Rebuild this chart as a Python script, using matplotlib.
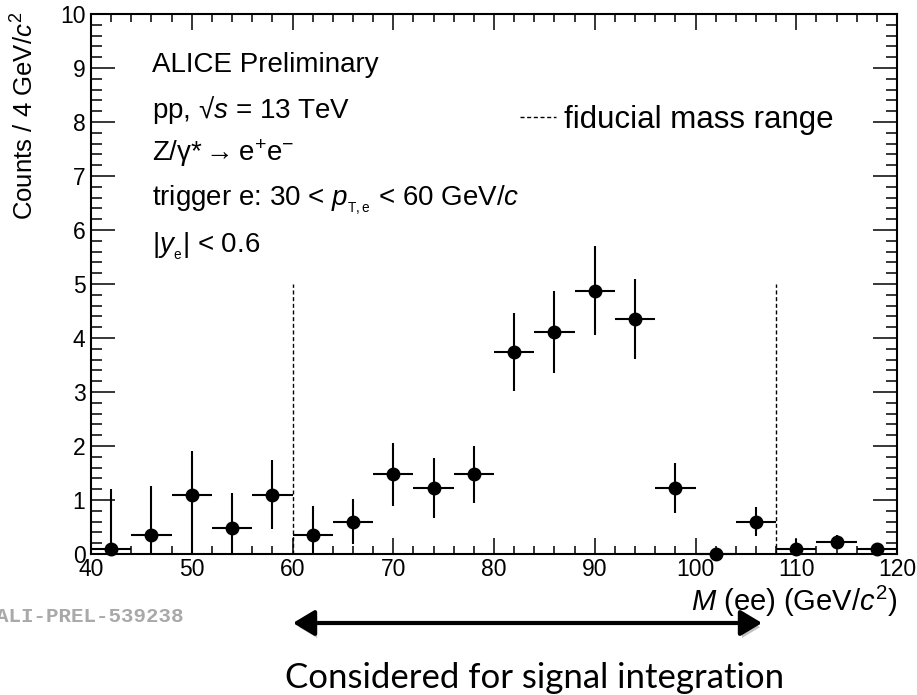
import matplotlib
matplotlib.use("Agg")
import matplotlib.pyplot as plt
from matplotlib.ticker import MultipleLocator
from matplotlib.patches import FancyArrowPatch, ArrowStyle
import matplotlib.patheffects as pe
import numpy as np

mass_centers = [42, 46, 50, 54, 58, 62, 66, 70, 74, 78, 82, 86, 90, 94, 98, 102, 106, 110, 114, 118]
counts = [0.1, 0.35, 1.1, 0.48, 1.1, 0.35, 0.6, 1.48, 1.22, 1.48, 3.74, 4.11, 4.87, 4.36, 1.22, 0.0, 0.6, 0.1, 0.22, 0.1]
err_low = [0.0, 0.0, 0.0, 0.0, 0.46, 0.0, 0.18, 0.89, 0.66, 0.94, 3.01, 3.35, 4.05, 3.62, 0.76, 0.0, 0.33, 0.0, 0.09, 0.02]
err_high = [1.2, 1.26, 1.9, 1.13, 1.75, 0.89, 1.01, 2.06, 1.78, 2.0, 4.47, 4.87, 5.7, 5.09, 1.69, 0.0, 0.87, 0.27, 0.35, 0.2]
bin_half = 2
fiducial_edges = [60, 108]
fiducial_top = 5

info_lines = ["ALICE Preliminary",
              "pp, \u221a$s$ = 13 TeV",
              "Z/\u03b3*$\\rightarrow$e$^{+}$e$^{-}$",
              "trigger e: 30 < $p_{_{\\mathrm{T,e}}}$ < 60 GeV/$c$",
              "|$y_{_{\\mathrm{e}}}$| < 0.6"]
info_baselines = [72, 118, 161, 205, 252]  # pixel rows

plt.rcParams['font.family'] = ['Liberation Sans', 'DejaVu Sans']
plt.rcParams['mathtext.fontset'] = 'custom'
plt.rcParams['mathtext.rm'] = 'Liberation Sans'
plt.rcParams['mathtext.it'] = 'Liberation Sans:italic'
plt.rcParams['mathtext.bf'] = 'Liberation Sans:bold'

W, H = 917, 695
fig = plt.figure(figsize=(W / 100, H / 100), dpi=100)
ax = fig.add_axes([91 / W, 1 - 554 / H, (897 - 91) / W, (554 - 14) / H])

x = np.array(mass_centers)
y = np.array(counts)
yerr = [y - np.array(err_low), np.array(err_high) - y]
cont = ax.errorbar(x, y, xerr=bin_half, yerr=yerr, fmt='o', color='black', ms=9,
                   elinewidth=1.5, capsize=0, zorder=3)
for art in [cont[0]] + list(cont[2]):
    art.set_clip_on(False)

dash = (0, (2.9, 1.9))
for i, edge in enumerate(fiducial_edges):
    ax.plot([edge, edge], [0, fiducial_top], color='black', lw=1, ls=dash,
            label='fiducial mass range' if i == 0 else None)

ax.set_xlim(40, 120)
ax.set_ylim(0, 10)
ax.xaxis.set_major_locator(MultipleLocator(10))
ax.xaxis.set_minor_locator(MultipleLocator(2))
ax.yaxis.set_major_locator(MultipleLocator(1))
ax.yaxis.set_minor_locator(MultipleLocator(0.2))
ax.tick_params(which='both', direction='in', top=True, right=True, width=1.1, labelsize=16.5)
ax.tick_params(axis='x', which='major', length=11.5, pad=3)
ax.tick_params(axis='x', which='minor', length=5.8)
ax.tick_params(axis='y', which='major', length=17, pad=4)
ax.tick_params(axis='y', which='minor', length=8)
for s in ax.spines.values():
    s.set_linewidth(1.5)

ax.legend(loc='center left', bbox_to_anchor=(520 / W, 1 - 120 / H), bbox_transform=fig.transFigure,
          frameon=False, fontsize=22.5, handlelength=1.15, handletextpad=0.25,
          borderpad=0, borderaxespad=0)

for txt, yb in zip(info_lines, info_baselines):
    fig.text(152 / W, 1 - yb / H, txt, fontsize=20, va='baseline', ha='left')

fig.text(897 / W, 1 - 611 / H, "$M$ (ee) (GeV/$c^{2}$)", fontsize=21, ha='right', va='baseline')
fig.text(25 / W, 1 - 12 / H, "Counts / 4 GeV/$c^{2}$", fontsize=18.5, rotation=90,
         ha='center', va='top')

fig.text(-4 / W, 1 - 617 / H, "ALI-PREL-539238", family='Liberation Mono', weight='bold',
         color='#a9a9a9', fontsize=15, ha='left', va='center')

arrow = FancyArrowPatch((293 / W, 1 - 623 / H), (762 / W, 1 - 623 / H), transform=fig.transFigure,
                        arrowstyle=ArrowStyle('<|-|>', head_length=1.0, head_width=0.6),
                        mutation_scale=13, lw=3, color='black', shrinkA=0, shrinkB=0,
                        path_effects=[pe.SimplePatchShadow(offset=(1.5, -3), shadow_rgbFace='#777777', alpha=0.45),
                                      pe.Normal()])
fig.patches.append(arrow)

fig.text(535 / W, 1 - 688 / H, "Considered for signal integration", family='Lato', fontsize=25,
         ha='center', va='baseline')

fig.savefig("out.png", dpi=100)
